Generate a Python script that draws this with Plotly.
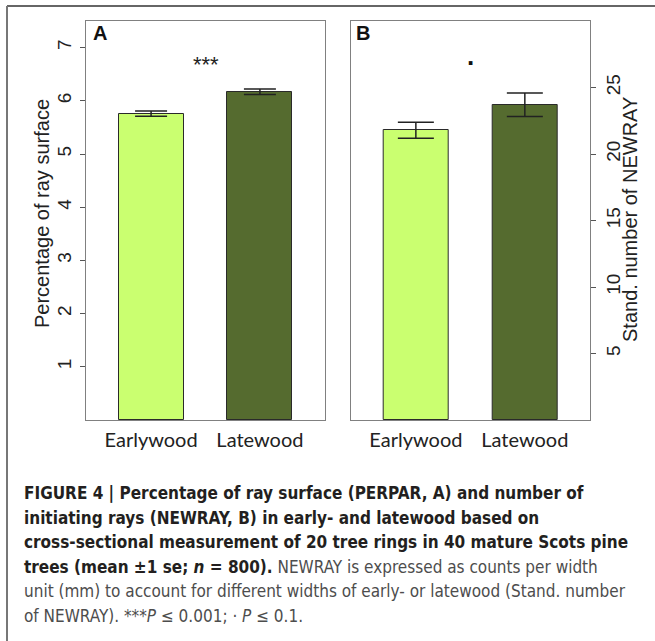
import plotly.graph_objects as go

categories = ["Earlywood", "Latewood"]
perpar_mean = [5.76, 6.17]
perpar_se = [0.05, 0.05]
newray_mean = [21.78, 23.70]
newray_se = [0.60, 0.88]
a_ticks = [1, 2, 3, 4, 5, 6, 7]
b_ticks = [5, 10, 15, 20, 25]
bar_colors = ["#CAFF70", "#556B2F"]

W, H = 655, 641
def px(x):
    return x / W
def py(y):
    return 1 - y / H

fig = go.Figure()
fig.add_trace(go.Bar(
    x=categories, y=perpar_mean, xaxis="x", yaxis="y", width=0.597,
    marker=dict(color=bar_colors, line=dict(color="#2a2a2a", width=1)),
    error_y=dict(type="data", array=perpar_se, color="#222222", thickness=1.5, width=16),
    showlegend=False, hoverinfo="skip"))
fig.add_trace(go.Bar(
    x=categories, y=newray_mean, xaxis="x2", yaxis="y2", width=0.597,
    marker=dict(color=bar_colors, line=dict(color="#2a2a2a", width=1)),
    error_y=dict(type="data", array=newray_se, color="#222222", thickness=1.5, width=18),
    showlegend=False, hoverinfo="skip"))
# carrier trace so the tick-label axis of panel B is drawn
fig.add_trace(go.Scatter(x=[None], y=[None], xaxis="x2", yaxis="y5", mode="markers",
                         showlegend=False, hoverinfo="skip"))

ydom = [py(420), py(21)]
axis_line = dict(showline=True, linecolor="#808080", linewidth=1, mirror=True,
                 showgrid=False, zeroline=False)
tickfont = dict(family="Liberation Sans, Arial", size=19, color="#222222")
xfont = dict(family="Lato, Carlito, Calibri", size=20, color="#222222")

fig.update_layout(
    width=W, height=H, margin=dict(l=0, r=0, t=0, b=0),
    paper_bgcolor="white", plot_bgcolor="white", bargap=0,
    xaxis=dict(domain=[px(86), px(325)], range=[-0.598, 1.598], anchor="y",
               ticks="", tickfont=xfont, ticklabelstandoff=2, **axis_line),
    xaxis2=dict(domain=[px(350.7), px(590)], range=[-0.598, 1.598], anchor="y2",
                ticks="", tickfont=xfont, ticklabelstandoff=2, **axis_line),
    yaxis=dict(domain=ydom, range=[0, 7.5], anchor="x", side="left",
               tickvals=a_ticks, ticks="outside", ticklen=5, tickcolor="#555555",
               tickangle=-90, tickfont=tickfont, ticklabelstandoff=1, **axis_line),
    yaxis3=dict(domain=ydom, range=[0, 7.5], anchor="x", overlaying="y", side="right",
                tickvals=a_ticks, ticks="inside", ticklen=4, tickcolor="#555555",
                showticklabels=False, showline=False, showgrid=False, zeroline=False),
    yaxis2=dict(domain=ydom, range=[0, 30], anchor="x2", side="right",
                tickvals=b_ticks, ticks="outside", ticklen=5, tickcolor="#555555",
                showticklabels=False, **axis_line),
    yaxis4=dict(domain=ydom, range=[0, 30], anchor="x2", overlaying="y2", side="left",
                tickvals=b_ticks, ticks="inside", ticklen=4, tickcolor="#555555",
                showticklabels=False, showline=False, showgrid=False, zeroline=False),
    yaxis5=dict(domain=ydom, range=[0, 30], anchor="free", overlaying="y2", side="right",
                position=px(600), tickvals=b_ticks, ticks="", tickangle=-90, tickfont=tickfont,
                showline=False, showgrid=False, zeroline=False),
)

ann = []
# axis titles
ann.append(dict(text="Percentage of ray surface", x=px(42), y=py(214), xref="paper", yref="paper",
                textangle=-90, showarrow=False, xanchor="center", yanchor="middle",
                font=dict(family="Liberation Sans, Arial", size=20, color="#222222")))
ann.append(dict(text="Stand. number of NEWRAY", x=px(630), y=py(220), xref="paper", yref="paper",
                textangle=-90, showarrow=False, xanchor="center", yanchor="middle",
                font=dict(family="Liberation Sans, Arial", size=20, color="#222222")))
# panel letters
ann.append(dict(text="<b>A</b>", x=px(91), y=py(33), xref="paper", yref="paper", showarrow=False,
                xanchor="left", yanchor="middle", font=dict(family="Liberation Sans, Arial", size=20, color="#111111")))
ann.append(dict(text="<b>B</b>", x=px(354), y=py(33), xref="paper", yref="paper", showarrow=False,
                xanchor="left", yanchor="middle", font=dict(family="Liberation Sans, Arial", size=20, color="#111111")))
# significance
ann.append(dict(text="***", x=px(205.5), y=py(64), xref="paper", yref="paper", showarrow=False,
                xanchor="center", yanchor="middle", font=dict(family="Liberation Sans, Arial", size=22, color="#222222")))
ann.append(dict(text="<b>.</b>", x=px(470.5), y=py(56), xref="paper", yref="paper", showarrow=False,
                xanchor="center", yanchor="middle", font=dict(family="Liberation Sans, Arial", size=26, color="#111111")))

cap_font = "Liberation Sans Narrow, Arial Narrow, DejaVu Sans Condensed, sans-serif"
bold_c = "#231f20"
reg_c = "#4d4d4d"
caption_lines = [
    f"<b><span style='color:{bold_c}'>FIGURE 4 | Percentage of ray surface (PERPAR, A) and number of</span></b>",
    f"<b><span style='color:{bold_c}'>initiating rays (NEWRAY, B) in early- and latewood based on</span></b>",
    f"<b><span style='color:{bold_c}'>cross-sectional measurement of 20 tree rings in 40 mature Scots pine</span></b>",
    f"<b><span style='color:{bold_c}'>trees (mean ±1 se; <i>n</i> = 800).</span></b> NEWRAY is expressed as counts per width",
    "unit (mm) to account for different widths of early- or latewood (Stand. number",
    "of NEWRAY). ***<i>P</i> ≤ 0.001; · <i>P</i> ≤ 0.1.",
]
line_y = [493, 518, 542, 567, 591, 616]
for t, yy in zip(caption_lines, line_y):
    ann.append(dict(text=t, x=px(22), y=py(yy), xref="paper", yref="paper", showarrow=False,
                    xanchor="left", yanchor="middle", align="left",
                    font=dict(family=cap_font, size=17, color=reg_c)))
fig.update_layout(annotations=ann)

# figure frame (top and left rules)
fig.add_shape(type="line", xref="paper", yref="paper", x0=px(7), x1=1, y0=py(6), y1=py(6),
              line=dict(color="#666666", width=2))
fig.add_shape(type="line", xref="paper", yref="paper", x0=px(7), x1=px(7), y0=py(6), y1=0,
              line=dict(color="#777777", width=2))

fig.write_html("out.html")
